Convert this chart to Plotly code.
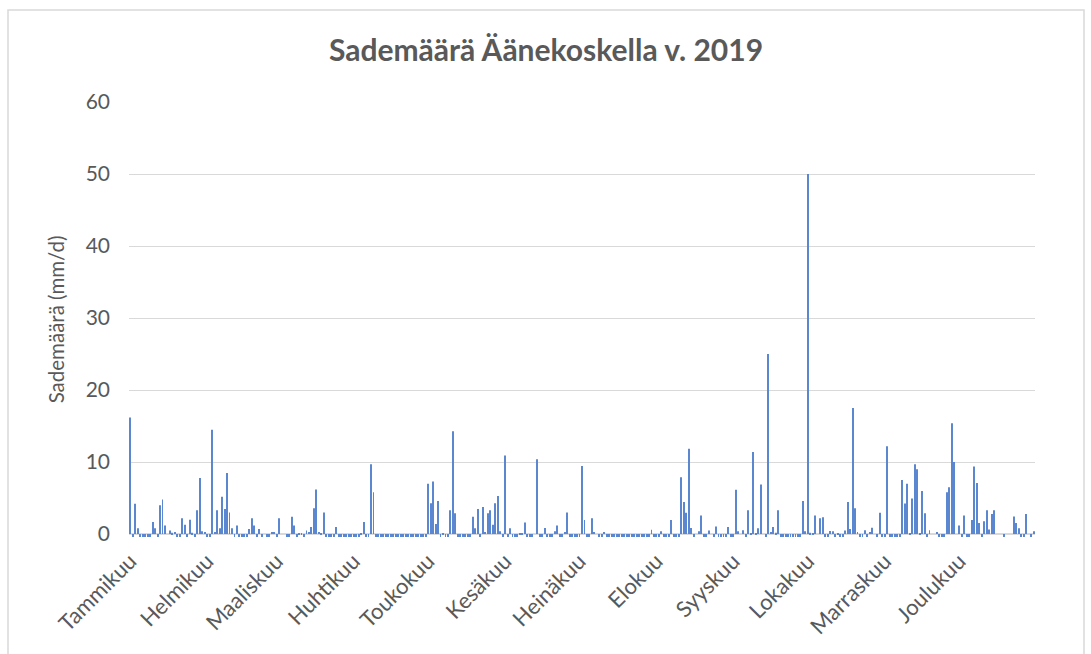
import plotly.graph_objects as go

N = -1  # päivä ilman sadetta (merkitty negatiivisena arvona)

tammikuu = [16.2, N, 4.2, 0.8, N, N, N, N, N, 1.7, 0.8, N, 4.0, 4.8, 1.2, 0, 0.5, 0.2, 0.3, N,
            N, 2.2, 1.3, N, 2.0, 0.2, N, 3.3, 7.8, 0.4, 0.3]
helmikuu = [N, N, 14.5, 0.3, 3.3, 0.8, 5.2, 3.5, 8.5, 3.0, 0.8, N, 1.2, N, N, N, N, 0.7, 2.2, 1.2,
            N, 0.7, N, 0, N, N, 0.3, 0.3]
maaliskuu = [N, 2.2, 0, 0, N, N, 2.4, 1.2, N, 0.1, 0.1, N, 0.5, 0.3, 1.0, 3.6, 6.2, 0.3, 0.1, 3.0,
             N, N, N, N, 1.0, N, N, N, N, N, N]
huhtikuu = [N, N, N, 0.1, 1.7, N, N, 9.7, 5.8, N, N, N, N, N, N, N, N, N, N, N,
            N, N, N, N, N, N, N, N, N, N]
toukokuu = [7.0, 4.3, 7.3, 1.4, 4.6, N, 0.1, N, N, 3.3, 14.3, 2.9, N, N, N, N, N, N, 2.4, 0.8,
            3.5, N, 3.75, 0.3, 2.9, 3.3, 1.3, 4.3, 5.3, 0.4, N]
kesakuu = [10.9, N, 0.8, N, N, N, 0.1, 0.1, 1.6, N, N, N, 0, 10.4, N, N, 0.85, N, N, N,
           0.4, 1.2, N, N, 0.3, 3.0, N, N, N, N]
heinakuu = [N, 9.45, 1.95, N, N, 2.2, 0.3, 0, N, N, 0.3, N, N, N, N, N, N, N, N, N,
            N, N, N, N, N, N, N, N, N, 0.6, N]
elokuu = [N, N, 0.4, N, N, N, 1.95, N, N, N, 7.9, 4.45, 2.95, 11.85, 0.85, N, 0, 0.4, 2.6, N,
          N, 0.5, 0, N, 1.05, N, N, N, N, 1.0, N]
syyskuu = [N, 6.15, 0.4, 0, 0.55, N, 3.3, 0.1, 11.4, 0.1, 0.8, 6.9, 0, N, 25.0, 0.3, 1.0, 0.2, 3.3, N,
           N, N, N, N, N, N, N, N, 4.6, 0.4]
lokakuu = [50.0, 0.2, 0.15, 2.6, 0, 2.2, 2.35, N, N, 0.45, 0.4, N, 0.15, N, N, 0.5, 4.45, 0.7, 17.5, 3.6,
           0.3, N, N, 0.55, N, 0.3, 0.9, 0, N, 2.95, N]
marraskuu = [N, 12.2, N, N, N, N, N, 7.5, 4.25, 7.0, 0.1, 4.95, 9.7, 9.0, 0.1, 6.0, 2.9, N, 0.55, 0,
             0, 0.3, N, N, N, 5.8, 6.5, 15.4, 10.0, 0]
joulukuu = [1.2, N, 2.6, N, N, 1.95, 9.4, 7.1, 1.55, N, 1.8, 3.3, 0.65, 2.8, 3.3, 0, 0, 0, N, 0,
            0, 0, 2.45, 1.55, 0.8, N, N, 2.8, 0, N, 0.4]

months = [tammikuu, helmikuu, maaliskuu, huhtikuu, toukokuu, kesakuu,
          heinakuu, elokuu, syyskuu, lokakuu, marraskuu, joulukuu]
month_names = ["Tammikuu", "Helmikuu", "Maaliskuu", "Huhtikuu", "Toukokuu", "Kesäkuu",
               "Heinäkuu", "Elokuu", "Syyskuu", "Lokakuu", "Marraskuu", "Joulukuu"]

values = []
month_starts = []
for m in months:
    month_starts.append(len(values))
    values.extend(m)
days = list(range(len(values)))

FONT = "Lato"
GRAY = "#595959"

fig = go.Figure(go.Bar(x=days, y=values, marker=dict(color="#5B87D0", line=dict(width=0)),
                       hoverinfo="x+y"))

fig.update_layout(
    width=1091, height=654,
    margin=dict(l=129, r=56, t=102, b=117),
    paper_bgcolor="white", plot_bgcolor="white",
    bargap=0.62,
    showlegend=False,
    font=dict(family=FONT, color=GRAY, size=21),
    title=dict(text="<b>Sademäärä Äänekoskella v. 2019</b>", x=546 / 1091, xref="container",
               xanchor="center", y=1 - 50 / 654, yanchor="middle",
               font=dict(family=FONT, size=30, color=GRAY)),
    xaxis=dict(range=[-0.5, len(values) - 0.5], tickmode="array",
               tickvals=month_starts, ticktext=month_names, tickangle=-45,
               showgrid=False, zeroline=False, showline=False, ticks="",
               ticklabelstandoff=6, tickfont=dict(size=22, family=FONT, color=GRAY)),
    yaxis=dict(range=[-0.4, 60], tickmode="array", tickvals=[0, 10, 20, 30, 40, 50, 60],
               showgrid=True, gridcolor="#D9D9D9", gridwidth=1,
               zeroline=True, zerolinecolor="#D9D9D9", zerolinewidth=2,
               showline=False, ticks="", ticklabelstandoff=18,
               title=dict(text="Sademäärä (mm/d)", standoff=15,
                          font=dict(size=20.5, family=FONT, color=GRAY)),
               tickfont=dict(size=21, family=FONT, color=GRAY)),
)

# chart border
fig.add_shape(type="rect", xref="paper", yref="paper",
              x0=(8 - 129) / 906, x1=(1084 - 129) / 906,
              y0=(537 - 700) / 435, y1=(537 - 10) / 435,
              line=dict(color="#D9D9D9", width=1.5), fillcolor="rgba(0,0,0,0)", layer="below")

fig.write_html("out.html")
